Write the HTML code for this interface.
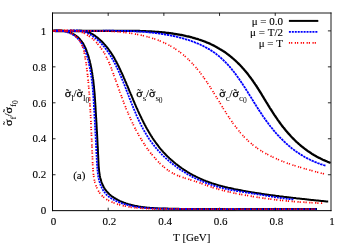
<!DOCTYPE html>
<html><head><meta charset="utf-8"><title>plot</title><style>html,body{margin:0;padding:0;background:#fff;overflow:hidden}body{width:350px;height:245px;position:relative;font-family:"Liberation Serif",serif}</style></head>
<body>
<svg width="350" height="245" viewBox="0 0 350 245" style="position:absolute;left:0;top:0">
<defs><filter id="gs" x="0" y="0" width="350" height="245" filterUnits="userSpaceOnUse" color-interpolation-filters="sRGB"><feColorMatrix type="saturate" values="0"/></filter></defs>
<rect width="350" height="245" fill="#fff"/>
<path d="M108.18 210.7 v-3 M108.18 12.9 v3 M52.5 174.74 h3 M330.9 174.74 h-3 M163.86 210.7 v-3 M163.86 12.9 v3 M52.5 138.77 h3 M330.9 138.77 h-3 M219.54 210.7 v-3 M219.54 12.9 v3 M52.5 102.81 h3 M330.9 102.81 h-3 M275.22 210.7 v-3 M275.22 12.9 v3 M52.5 66.85 h3 M330.9 66.85 h-3 M52.5 30.88 h3 M330.9 30.88 h-3" stroke="#000" stroke-width="0.85" fill="none"/>
<path d="M52.5 30.9 L53.5 30.8 L54.6 30.6 L55.6 30.5 L56.6 30.5 L57.7 30.5 L58.7 30.5 L59.8 30.5 L60.8 30.6 L61.8 30.7 L62.8 30.8 L63.8 30.9 L64.9 31.1 L65.8 31.3 L66.8 31.6 L67.8 31.8 L68.8 32.1 L69.7 32.5 L70.6 32.8 L71.5 33.2 L72.4 33.6 L73.3 34.1 L74.1 34.5 L75.0 35.0 L75.8 35.6 L76.5 36.1 L77.3 36.7 L78.0 37.3 L78.7 38.0 L79.4 38.6 L80.0 39.3 L80.6 40.1 L81.2 40.8 L81.8 41.6 L82.3 42.3 L82.9 43.1 L83.4 44.0 L83.8 44.8 L84.3 45.7 L84.7 46.5 L85.2 47.4 L85.6 48.3 L86.0 49.2 L86.3 50.2 L86.7 51.1 L87.0 52.0 L87.4 53.0 L87.7 54.0 L88.0 54.9 L88.3 55.9 L88.6 56.9 L88.9 57.9 L89.1 58.8 L89.4 59.8 L89.7 60.8 L89.9 61.8 L90.1 62.8 L90.4 63.8 L90.6 64.8 L90.8 65.7 L91.0 66.7 L91.2 67.7 L91.4 68.7 L91.6 69.7 L91.8 70.7 L91.9 71.7 L92.1 72.7 L92.3 73.7 L92.4 74.7 L92.6 75.7 L92.7 76.7 L92.9 77.7 L93.0 78.7 L93.2 79.7 L93.3 80.7 L93.4 81.7 L93.5 82.7 L93.6 83.6 L93.7 84.6 L93.8 85.6 L94.0 86.6 L94.0 87.6 L94.1 88.6 L94.2 89.6 L94.3 90.6 L94.4 91.6 L94.5 92.6 L94.6 93.6 L94.7 94.6 L94.7 95.6 L94.8 96.6 L94.9 97.6 L94.9 98.6 L95.0 99.6 L95.1 100.6 L95.1 101.6 L95.2 102.6 L95.3 103.6 L95.3 104.6 L95.4 105.6 L95.5 106.6 L95.5 107.6 L95.6 108.6 L95.6 109.6 L95.7 110.6 L95.7 111.5 L95.8 112.5 L95.9 113.5 L95.9 114.5 L96.0 115.5 L96.0 116.5 L96.1 117.5 L96.2 118.5 L96.2 119.5 L96.3 120.4 L96.3 121.4 L96.4 122.4 L96.5 123.4 L96.5 124.4 L96.6 125.4 L96.6 126.4 L96.7 127.4 L96.7 128.3 L96.8 129.3 L96.8 130.3 L96.9 131.3 L97.0 132.3 L97.0 133.3 L97.1 134.3 L97.1 135.3 L97.2 136.3 L97.2 137.3 L97.3 138.3 L97.3 139.3 L97.4 140.3 L97.4 141.3 L97.5 142.3 L97.5 143.3 L97.6 144.3 L97.6 145.3 L97.7 146.3 L97.8 147.3 L97.8 148.3 L97.9 149.3 L97.9 150.3 L97.9 151.3 L98.0 152.3 L98.0 153.3 L98.1 154.4 L98.1 155.4 L98.2 156.4 L98.2 157.4 L98.3 158.5 L98.3 159.5 L98.4 160.5 L98.4 161.5 L98.5 162.6 L98.5 163.6 L98.6 164.6 L98.6 165.7 L98.7 166.7 L98.8 167.7 L98.9 168.7 L99.0 169.7 L99.1 170.8 L99.2 171.8 L99.3 172.8 L99.5 173.8 L99.7 174.8 L99.8 175.7 L100.0 176.7 L100.2 177.7 L100.5 178.6 L100.7 179.6 L101.0 180.5 L101.3 181.5 L101.6 182.4 L102.0 183.3 L102.3 184.2 L102.7 185.1 L103.2 186.0 L103.6 186.8 L104.1 187.7 L104.6 188.5 L105.1 189.3 L105.7 190.1 L106.3 190.9 L106.9 191.6 L107.5 192.3 L108.2 193.0 L108.9 193.7 L109.6 194.4 L110.3 195.0 L111.1 195.7 L111.9 196.3 L112.7 196.8 L113.5 197.4 L114.3 197.9 L115.2 198.4 L116.0 198.9 L116.9 199.4 L117.8 199.9 L118.7 200.3 L119.5 200.8 L120.4 201.2 L121.4 201.6 L122.3 202.0 L123.2 202.3 L124.1 202.7 L125.0 203.0 L126.0 203.4 L126.9 203.7 L127.8 204.0 L128.8 204.3 L129.7 204.5 L130.7 204.8 L131.6 205.1 L132.6 205.3 L133.6 205.5 L134.5 205.7 L135.5 205.9 L136.5 206.1 L137.5 206.3 L138.4 206.5 L139.4 206.7 L140.4 206.8 L141.4 207.0 L142.4 207.1 L143.4 207.2 L144.4 207.3 L145.4 207.5 L146.4 207.6 L147.4 207.7 L148.4 207.8 L149.4 207.8 L150.4 207.9 L151.4 208.0 L152.4 208.1 L153.5 208.1 L154.5 208.2 L155.5 208.2 L156.5 208.3 L157.5 208.3 L158.5 208.4 L159.6 208.4 L160.6 208.5 L161.6 208.5 L162.6 208.5 L163.6 208.5 L164.6 208.6 L165.6 208.6 L166.7 208.6 L167.7 208.6 L168.7 208.7 L169.7 208.7 L170.7 208.7 L171.7 208.7 L172.7 208.7 L173.7 208.8 L174.7 208.8 L175.7 208.8 L176.7 208.8 L177.7 208.8 L178.7 208.8 L179.7 208.9 L180.7 208.9 L181.7 208.9 L182.7 208.9 L183.7 208.9 L184.7 208.9 L185.7 208.9 L186.7 208.9 L187.7 209.0 L188.7 209.0 L189.7 209.0 L190.7 209.0 L191.7 209.0 L192.7 209.0 L193.7 209.0 L194.7 209.0 L195.7 209.0 L196.7 209.0 L197.7 209.1 L198.7 209.1 L199.7 209.1 L200.7 209.1 L201.7 209.1 L202.6 209.1 L203.6 209.1 L204.6 209.1 L205.6 209.1 L206.6 209.1 L207.6 209.1 L208.6 209.1 L209.6 209.1 L210.6 209.1 L211.6 209.1 L212.6 209.1 L213.6 209.1 L214.6 209.1 L215.6 209.1 L216.6 209.1 L217.5 209.1 L218.5 209.1 L219.5 209.1 L220.5 209.1 L221.5 209.1 L222.5 209.1 L223.5 209.1 L224.5 209.1 L225.5 209.2 L226.5 209.2 L227.5 209.2 L228.5 209.2 L229.5 209.2 L230.5 209.2 L231.5 209.2 L232.5 209.2 L233.5 209.2 L234.5 209.2 L235.5 209.2 L236.5 209.1 L237.5 209.1 L238.5 209.1 L239.5 209.1 L240.5 209.1 L241.5 209.1 L242.5 209.1 L243.5 209.1 L244.5 209.1 L245.5 209.1 L246.5 209.1 L247.5 209.1 L248.5 209.1 L249.5 209.1 L250.5 209.1 L251.5 209.1 L252.5 209.1 L253.5 209.1 L254.5 209.1 L255.5 209.1 L256.5 209.1 L257.5 209.1 L258.6 209.1 L259.6 209.1 L260.6 209.1 L261.6 209.1 L262.6 209.1 L263.6 209.1 L264.6 209.1 L265.6 209.1 L266.6 209.1 L267.6 209.1 L268.6 209.1 L269.6 209.1 L270.6 209.1 L271.6 209.1 L272.6 209.1 L273.6 209.1 L274.6 209.1 L275.6 209.1 L276.6 209.1 L277.6 209.1 L278.6 209.1 L279.6 209.1 L280.6 209.1 L281.6 209.1 L282.6 209.1 L283.6 209.1 L284.6 209.1 L285.6 209.1 L286.6 209.1 L287.6 209.1 L288.6 209.1 L289.6 209.1 L290.6 209.1 L291.6 209.1 L292.6 209.1 L293.6 209.1 L294.6 209.1 L295.6 209.1 L296.6 209.1 L297.6 209.1 L298.6 209.1 L299.6 209.1 L300.6 209.1 L301.6 209.1 L302.6 209.1 L303.6 209.1 L304.6 209.1 L305.6 209.1 L306.6 209.1 L307.6 209.1 L308.6 209.1 L309.6 209.1 L310.6 209.1 L311.6 209.1 L312.6 209.1 L313.6 209.1 L314.6 209.1 L315.6 209.1 L316.6 209.1 L317.0 209.1" stroke="#000" stroke-width="2.0" fill="none" stroke-linejoin="round"/>
<path d="M52.5 30.9 L53.5 30.9 L54.5 31.0 L55.5 31.0 L56.5 31.0 L57.5 31.0 L58.5 31.0 L59.5 31.0 L60.5 31.0 L61.5 31.0 L62.5 31.0 L63.6 31.0 L64.6 31.0 L65.6 30.9 L66.6 30.9 L67.6 30.9 L68.6 30.9 L69.6 30.8 L70.6 30.8 L71.6 30.8 L72.6 30.8 L73.6 30.8 L74.6 30.7 L75.6 30.7 L76.6 30.7 L77.6 30.7 L78.6 30.7 L79.5 30.7 L80.5 30.8 L81.5 30.8 L82.5 30.9 L83.5 31.0 L84.4 31.2 L85.4 31.3 L86.4 31.6 L87.3 31.8 L88.2 32.1 L89.2 32.5 L90.1 32.9 L91.0 33.3 L91.9 33.8 L92.8 34.3 L93.6 34.9 L94.5 35.4 L95.3 36.0 L96.2 36.7 L97.0 37.3 L97.8 37.9 L98.6 38.6 L99.3 39.3 L100.1 39.9 L100.8 40.6 L101.6 41.3 L102.3 42.0 L103.0 42.7 L103.6 43.4 L104.3 44.2 L105.0 44.9 L105.6 45.7 L106.3 46.4 L106.9 47.2 L107.5 47.9 L108.1 48.7 L108.7 49.5 L109.3 50.3 L109.8 51.1 L110.4 51.9 L110.9 52.7 L111.5 53.5 L112.0 54.4 L112.5 55.2 L113.1 56.0 L113.6 56.9 L114.1 57.7 L114.6 58.6 L115.0 59.4 L115.5 60.3 L116.0 61.2 L116.5 62.0 L116.9 62.9 L117.4 63.8 L117.8 64.7 L118.3 65.6 L118.7 66.5 L119.1 67.4 L119.6 68.3 L120.0 69.2 L120.4 70.1 L120.8 71.0 L121.2 71.9 L121.7 72.8 L122.1 73.7 L122.5 74.6 L122.9 75.5 L123.3 76.4 L123.7 77.4 L124.1 78.3 L124.5 79.2 L124.9 80.1 L125.3 81.1 L125.7 82.0 L126.1 82.9 L126.5 83.8 L126.9 84.8 L127.3 85.7 L127.7 86.6 L128.1 87.6 L128.4 88.5 L128.8 89.4 L129.2 90.3 L129.6 91.3 L130.0 92.2 L130.4 93.1 L130.8 94.1 L131.2 95.0 L131.6 95.9 L132.0 96.9 L132.4 97.8 L132.7 98.7 L133.1 99.7 L133.5 100.6 L133.9 101.5 L134.3 102.4 L134.7 103.4 L135.1 104.3 L135.5 105.2 L135.9 106.2 L136.3 107.1 L136.7 108.0 L137.2 108.9 L137.6 109.8 L138.0 110.8 L138.4 111.7 L138.8 112.6 L139.2 113.5 L139.7 114.4 L140.1 115.3 L140.5 116.2 L140.9 117.1 L141.4 118.0 L141.8 118.9 L142.3 119.8 L142.7 120.7 L143.2 121.6 L143.6 122.5 L144.1 123.4 L144.5 124.3 L145.0 125.2 L145.5 126.0 L145.9 126.9 L146.4 127.8 L146.9 128.7 L147.4 129.5 L147.9 130.4 L148.4 131.2 L148.9 132.1 L149.4 132.9 L149.9 133.8 L150.4 134.6 L150.9 135.5 L151.5 136.3 L152.0 137.1 L152.5 138.0 L153.1 138.8 L153.6 139.6 L154.2 140.4 L154.7 141.2 L155.3 142.0 L155.9 142.8 L156.5 143.6 L157.1 144.4 L157.7 145.2 L158.3 146.0 L158.9 146.8 L159.5 147.6 L160.1 148.3 L160.7 149.1 L161.4 149.8 L162.0 150.6 L162.7 151.3 L163.3 152.1 L164.0 152.8 L164.7 153.5 L165.4 154.2 L166.1 155.0 L166.8 155.7 L167.5 156.4 L168.2 157.1 L168.9 157.7 L169.6 158.4 L170.4 159.1 L171.1 159.8 L171.9 160.4 L172.6 161.1 L173.4 161.8 L174.2 162.4 L174.9 163.0 L175.7 163.7 L176.5 164.3 L177.3 164.9 L178.1 165.5 L178.9 166.1 L179.7 166.7 L180.5 167.3 L181.3 167.9 L182.2 168.5 L183.0 169.0 L183.8 169.6 L184.7 170.2 L185.5 170.7 L186.4 171.2 L187.2 171.8 L188.1 172.3 L189.0 172.8 L189.8 173.3 L190.7 173.8 L191.6 174.3 L192.5 174.8 L193.4 175.3 L194.2 175.7 L195.1 176.2 L196.0 176.7 L196.9 177.1 L197.8 177.5 L198.7 178.0 L199.7 178.4 L200.6 178.8 L201.5 179.2 L202.4 179.6 L203.3 180.0 L204.3 180.4 L205.2 180.7 L206.1 181.1 L207.0 181.4 L208.0 181.8 L208.9 182.1 L209.9 182.5 L210.8 182.8 L211.7 183.1 L212.7 183.4 L213.6 183.7 L214.6 184.0 L215.5 184.3 L216.5 184.6 L217.5 184.9 L218.4 185.2 L219.4 185.5 L220.3 185.7 L221.3 186.0 L222.3 186.2 L223.2 186.5 L224.2 186.7 L225.2 187.0 L226.1 187.2 L227.1 187.4 L228.1 187.7 L229.1 187.9 L230.0 188.1 L231.0 188.3 L232.0 188.5 L233.0 188.7 L233.9 189.0 L234.9 189.2 L235.9 189.4 L236.9 189.5 L237.9 189.7 L238.9 189.9 L239.8 190.1 L240.8 190.3 L241.8 190.5 L242.8 190.7 L243.8 190.9 L244.8 191.0 L245.7 191.2 L246.7 191.4 L247.7 191.6 L248.7 191.7 L249.7 191.9 L250.7 192.1 L251.7 192.2 L252.6 192.4 L253.6 192.5 L254.6 192.7 L255.6 192.9 L256.6 193.0 L257.6 193.2 L258.6 193.3 L259.6 193.5 L260.5 193.6 L261.5 193.8 L262.5 193.9 L263.5 194.1 L264.5 194.2 L265.5 194.4 L266.5 194.5 L267.5 194.7 L268.4 194.8 L269.4 194.9 L270.4 195.1 L271.4 195.2 L272.4 195.3 L273.4 195.5 L274.4 195.6 L275.4 195.7 L276.4 195.9 L277.4 196.0 L278.4 196.1 L279.3 196.3 L280.3 196.4 L281.3 196.5 L282.3 196.6 L283.3 196.7 L284.3 196.9 L285.3 197.0 L286.3 197.1 L287.3 197.2 L288.3 197.3 L289.3 197.5 L290.3 197.6 L291.2 197.7 L292.2 197.8 L293.2 197.9 L294.2 198.0 L295.2 198.1 L296.2 198.3 L297.2 198.4 L298.2 198.5 L299.2 198.6 L300.2 198.7 L301.2 198.8 L302.2 198.9 L303.2 199.0 L304.2 199.1 L305.2 199.2 L306.2 199.3 L307.1 199.4 L308.1 199.5 L309.1 199.7 L310.1 199.8 L311.1 199.9 L312.1 200.0 L313.1 200.1 L314.1 200.2 L315.1 200.3 L316.1 200.4 L317.1 200.5 L318.1 200.6 L319.1 200.7 L320.1 200.8 L321.1 200.9 L322.1 201.0 L323.1 201.1 L324.1 201.2 L325.1 201.3 L326.1 201.4 L327.1 201.5 L328.0 201.6 L328.2 201.6" stroke="#000" stroke-width="2.0" fill="none" stroke-linejoin="round"/>
<path d="M52.5 30.9 L53.5 30.9 L54.5 30.9 L55.5 31.0 L56.5 31.0 L57.5 31.0 L58.5 31.0 L59.5 31.0 L60.5 31.0 L61.5 31.0 L62.5 31.0 L63.5 31.0 L64.5 31.1 L65.6 31.1 L66.6 31.1 L67.6 31.1 L68.6 31.1 L69.6 31.1 L70.6 31.1 L71.6 31.1 L72.6 31.1 L73.6 31.1 L74.6 31.1 L75.6 31.1 L76.6 31.1 L77.6 31.1 L78.6 31.0 L79.6 31.0 L80.6 31.0 L81.6 31.0 L82.6 31.0 L83.5 31.0 L84.5 31.0 L85.5 31.0 L86.5 31.0 L87.5 31.0 L88.5 31.0 L89.5 31.0 L90.5 30.9 L91.5 30.9 L92.5 30.9 L93.5 30.9 L94.5 30.9 L95.5 30.9 L96.5 30.9 L97.5 30.9 L98.5 30.9 L99.5 30.9 L100.5 30.9 L101.5 30.8 L102.5 30.8 L103.5 30.8 L104.5 30.8 L105.5 30.8 L106.5 30.8 L107.5 30.8 L108.5 30.8 L109.5 30.8 L110.5 30.8 L111.5 30.8 L112.5 30.8 L113.5 30.8 L114.5 30.8 L115.5 30.8 L116.5 30.8 L117.4 30.8 L118.4 30.8 L119.4 30.8 L120.4 30.8 L121.4 30.8 L122.4 30.8 L123.4 30.8 L124.4 30.8 L125.4 30.8 L126.4 30.8 L127.4 30.8 L128.4 30.8 L129.4 30.8 L130.4 30.8 L131.4 30.9 L132.4 30.9 L133.4 30.9 L134.4 30.9 L135.4 30.9 L136.4 31.0 L137.4 31.0 L138.4 31.0 L139.4 31.0 L140.4 31.1 L141.4 31.1 L142.4 31.1 L143.4 31.2 L144.4 31.2 L145.4 31.2 L146.4 31.3 L147.4 31.3 L148.4 31.4 L149.4 31.4 L150.4 31.5 L151.4 31.5 L152.4 31.6 L153.4 31.6 L154.4 31.7 L155.4 31.8 L156.4 31.8 L157.4 31.9 L158.4 32.0 L159.4 32.1 L160.4 32.2 L161.4 32.2 L162.4 32.3 L163.4 32.4 L164.4 32.5 L165.4 32.6 L166.4 32.8 L167.4 32.9 L168.4 33.0 L169.4 33.1 L170.4 33.2 L171.4 33.4 L172.4 33.5 L173.4 33.7 L174.4 33.8 L175.4 34.0 L176.4 34.1 L177.4 34.3 L178.4 34.5 L179.4 34.6 L180.4 34.8 L181.4 35.0 L182.3 35.2 L183.3 35.4 L184.3 35.6 L185.3 35.8 L186.3 36.1 L187.3 36.3 L188.3 36.5 L189.2 36.7 L190.2 37.0 L191.2 37.2 L192.2 37.5 L193.1 37.8 L194.1 38.0 L195.1 38.3 L196.0 38.6 L197.0 38.9 L198.0 39.2 L198.9 39.5 L199.9 39.8 L200.8 40.2 L201.8 40.5 L202.7 40.8 L203.6 41.2 L204.6 41.5 L205.5 41.9 L206.4 42.3 L207.3 42.6 L208.3 43.0 L209.2 43.4 L210.1 43.8 L211.0 44.3 L211.9 44.7 L212.8 45.1 L213.7 45.5 L214.5 46.0 L215.4 46.4 L216.3 46.9 L217.2 47.4 L218.0 47.9 L218.9 48.4 L219.7 48.9 L220.6 49.4 L221.4 49.9 L222.2 50.4 L223.1 51.0 L223.9 51.5 L224.7 52.1 L225.5 52.6 L226.3 53.2 L227.1 53.8 L227.9 54.4 L228.7 55.0 L229.5 55.6 L230.2 56.2 L231.0 56.8 L231.7 57.4 L232.5 58.1 L233.3 58.7 L234.0 59.4 L234.7 60.0 L235.5 60.7 L236.2 61.4 L236.9 62.0 L237.6 62.7 L238.3 63.4 L239.0 64.1 L239.7 64.8 L240.4 65.5 L241.1 66.3 L241.8 67.0 L242.4 67.7 L243.1 68.5 L243.8 69.2 L244.4 70.0 L245.1 70.7 L245.7 71.5 L246.3 72.2 L247.0 73.0 L247.6 73.8 L248.2 74.6 L248.8 75.4 L249.4 76.2 L250.0 76.9 L250.6 77.8 L251.2 78.6 L251.8 79.4 L252.4 80.2 L253.0 81.0 L253.5 81.8 L254.1 82.7 L254.7 83.5 L255.2 84.3 L255.8 85.2 L256.3 86.0 L256.9 86.8 L257.4 87.7 L258.0 88.5 L258.5 89.4 L259.1 90.2 L259.6 91.1 L260.1 92.0 L260.7 92.8 L261.2 93.7 L261.7 94.5 L262.2 95.4 L262.8 96.3 L263.3 97.1 L263.8 98.0 L264.3 98.9 L264.9 99.7 L265.4 100.6 L265.9 101.4 L266.4 102.3 L267.0 103.2 L267.5 104.0 L268.0 104.9 L268.6 105.8 L269.1 106.6 L269.6 107.5 L270.1 108.3 L270.7 109.2 L271.2 110.0 L271.8 110.9 L272.3 111.7 L272.9 112.6 L273.4 113.4 L274.0 114.3 L274.5 115.1 L275.1 115.9 L275.6 116.8 L276.2 117.6 L276.8 118.4 L277.3 119.2 L277.9 120.1 L278.5 120.9 L279.1 121.7 L279.6 122.5 L280.2 123.3 L280.8 124.1 L281.4 124.9 L282.0 125.7 L282.6 126.5 L283.2 127.3 L283.9 128.0 L284.5 128.8 L285.1 129.6 L285.7 130.4 L286.4 131.1 L287.0 131.9 L287.7 132.6 L288.3 133.4 L289.0 134.1 L289.6 134.8 L290.3 135.6 L290.9 136.3 L291.6 137.0 L292.3 137.7 L293.0 138.4 L293.7 139.1 L294.4 139.8 L295.1 140.5 L295.8 141.2 L296.5 141.9 L297.2 142.5 L298.0 143.2 L298.7 143.8 L299.5 144.5 L300.2 145.1 L301.0 145.8 L301.7 146.4 L302.5 147.0 L303.3 147.6 L304.0 148.2 L304.8 148.8 L305.6 149.4 L306.4 150.0 L307.2 150.6 L308.0 151.2 L308.9 151.7 L309.7 152.3 L310.5 152.8 L311.4 153.4 L312.2 153.9 L313.1 154.4 L313.9 154.9 L314.8 155.4 L315.7 155.9 L316.5 156.4 L317.4 156.9 L318.3 157.4 L319.2 157.9 L320.1 158.3 L321.0 158.8 L321.9 159.2 L322.8 159.7 L323.8 160.1 L324.7 160.5 L325.6 160.9 L326.6 161.3 L327.5 161.7 L328.5 162.1 L329.5 162.5 L330.4 162.8 L330.6 162.9" stroke="#000" stroke-width="2.3" fill="none" stroke-linejoin="round"/>
<path d="M52.5 30.9 L53.5 30.8 L54.5 30.6 L55.6 30.6 L56.6 30.5 L57.6 30.5 L58.7 30.5 L59.7 30.6 L60.7 30.7 L61.7 30.8 L62.7 31.0 L63.7 31.2 L64.7 31.4 L65.7 31.7 L66.7 31.9 L67.6 32.3 L68.5 32.6 L69.5 33.0 L70.4 33.4 L71.3 33.8 L72.1 34.3 L73.0 34.8 L73.8 35.3 L74.6 35.8 L75.4 36.4 L76.1 37.0 L76.9 37.6 L77.6 38.3 L78.2 39.0 L78.9 39.7 L79.5 40.4 L80.1 41.1 L80.7 41.9 L81.2 42.7 L81.7 43.5 L82.2 44.3 L82.7 45.2 L83.2 46.1 L83.6 46.9 L84.0 47.8 L84.4 48.7 L84.8 49.6 L85.2 50.6 L85.5 51.5 L85.9 52.5 L86.2 53.4 L86.5 54.4 L86.8 55.4 L87.1 56.3 L87.4 57.3 L87.7 58.3 L87.9 59.3 L88.2 60.3 L88.4 61.3 L88.7 62.2 L88.9 63.2 L89.1 64.2 L89.3 65.2 L89.5 66.2 L89.7 67.2 L89.9 68.2 L90.1 69.2 L90.3 70.2 L90.5 71.2 L90.6 72.2 L90.8 73.2 L91.0 74.2 L91.1 75.2 L91.3 76.2 L91.4 77.1 L91.5 78.1 L91.7 79.1 L91.8 80.1 L91.9 81.1 L92.0 82.1 L92.1 83.1 L92.3 84.1 L92.4 85.1 L92.5 86.1 L92.6 87.1 L92.7 88.1 L92.8 89.1 L92.8 90.1 L92.9 91.1 L93.0 92.1 L93.1 93.1 L93.2 94.1 L93.2 95.1 L93.3 96.1 L93.4 97.1 L93.5 98.1 L93.5 99.1 L93.6 100.1 L93.6 101.1 L93.7 102.1 L93.8 103.1 L93.8 104.0 L93.9 105.0 L93.9 106.0 L94.0 107.0 L94.1 108.0 L94.1 109.0 L94.2 110.0 L94.2 111.0 L94.3 112.0 L94.3 113.0 L94.4 114.0 L94.4 115.0 L94.5 115.9 L94.5 116.9 L94.6 117.9 L94.7 118.9 L94.7 119.9 L94.8 120.9 L94.8 121.9 L94.9 122.9 L94.9 123.9 L95.0 124.8 L95.0 125.8 L95.1 126.8 L95.1 127.8 L95.2 128.8 L95.2 129.8 L95.3 130.8 L95.3 131.8 L95.4 132.8 L95.5 133.8 L95.5 134.7 L95.6 135.7 L95.6 136.7 L95.7 137.7 L95.7 138.7 L95.8 139.7 L95.8 140.7 L95.9 141.7 L95.9 142.7 L96.0 143.7 L96.0 144.7 L96.1 145.7 L96.1 146.7 L96.2 147.7 L96.2 148.7 L96.3 149.8 L96.3 150.8 L96.4 151.8 L96.4 152.8 L96.5 153.8 L96.5 154.8 L96.6 155.8 L96.6 156.9 L96.7 157.9 L96.7 158.9 L96.8 159.9 L96.8 160.9 L96.9 162.0 L96.9 163.0 L97.0 164.0 L97.1 165.1 L97.1 166.1 L97.2 167.1 L97.3 168.1 L97.4 169.2 L97.5 170.2 L97.6 171.2 L97.7 172.2 L97.8 173.2 L97.9 174.2 L98.1 175.2 L98.2 176.2 L98.4 177.2 L98.6 178.2 L98.8 179.2 L99.1 180.1 L99.3 181.1 L99.6 182.0 L99.9 183.0 L100.2 183.9 L100.5 184.8 L100.9 185.7 L101.2 186.6 L101.7 187.5 L102.1 188.4 L102.5 189.2 L103.0 190.1 L103.5 190.9 L104.1 191.7 L104.7 192.5 L105.3 193.2 L105.9 194.0 L106.5 194.7 L107.2 195.3 L107.9 196.0 L108.7 196.6 L109.4 197.2 L110.2 197.7 L111.1 198.3 L111.9 198.8 L112.7 199.3 L113.6 199.8 L114.5 200.2 L115.4 200.7 L116.3 201.1 L117.2 201.5 L118.1 201.9 L119.0 202.2 L119.9 202.6 L120.9 202.9 L121.8 203.3 L122.7 203.6 L123.7 203.9 L124.6 204.2 L125.6 204.5 L126.5 204.7 L127.5 205.0 L128.4 205.2 L129.4 205.5 L130.4 205.7 L131.3 205.9 L132.3 206.1 L133.3 206.3 L134.2 206.5 L135.2 206.7 L136.2 206.8 L137.2 207.0 L138.2 207.1 L139.2 207.3 L140.2 207.4 L141.2 207.5 L142.2 207.6 L143.2 207.7 L144.2 207.8 L145.2 207.9 L146.2 208.0 L147.2 208.1 L148.2 208.1 L149.2 208.2 L150.2 208.3 L151.2 208.3 L152.2 208.4 L153.2 208.4 L154.2 208.5 L155.2 208.5 L156.3 208.6 L157.3 208.6 L158.3 208.6 L159.3 208.6 L160.3 208.7 L161.3 208.7 L162.3 208.7 L163.4 208.7 L164.4 208.7 L165.4 208.7 L166.4 208.8 L167.4 208.8 L168.4 208.8 L169.4 208.8 L170.4 208.8 L171.4 208.8 L172.5 208.8 L173.5 208.8 L174.5 208.9 L175.5 208.9 L176.5 208.9 L177.5 208.9 L178.5 208.9 L179.5 208.9 L180.5 208.9 L181.5 208.9 L182.5 208.9 L183.5 208.9 L184.5 209.0 L185.5 209.0 L186.5 209.0 L187.5 209.0 L188.5 209.0 L189.5 209.0 L190.5 209.0 L191.5 209.0 L192.5 209.0 L193.5 209.0 L194.4 209.0 L195.4 209.0 L196.4 209.0 L197.4 209.1 L198.4 209.1 L199.4 209.1 L200.4 209.1 L201.4 209.1 L202.4 209.1 L203.4 209.1 L204.4 209.1 L205.4 209.1 L206.4 209.1 L207.4 209.1 L208.4 209.1 L209.3 209.1 L210.3 209.1 L211.3 209.1 L212.3 209.1 L213.3 209.1 L214.3 209.1 L215.3 209.1 L216.3 209.1 L217.3 209.1 L218.3 209.1 L219.3 209.1 L220.3 209.1 L221.3 209.1 L222.3 209.2 L223.3 209.2 L224.3 209.2 L225.3 209.2 L226.3 209.2 L227.3 209.2 L228.3 209.2 L229.3 209.2 L230.3 209.2 L231.3 209.2 L232.3 209.2 L233.3 209.2 L234.3 209.2 L235.3 209.2 L236.3 209.2 L237.3 209.2 L238.3 209.2 L239.3 209.2 L240.3 209.2 L241.3 209.2 L242.3 209.2 L243.3 209.1 L244.3 209.1 L245.3 209.1 L246.3 209.1 L247.3 209.1 L248.3 209.1 L249.3 209.1 L250.3 209.1 L251.3 209.1 L252.3 209.1 L253.3 209.1 L254.3 209.1 L255.3 209.1 L256.3 209.1 L257.3 209.1 L258.3 209.1 L259.3 209.1 L260.3 209.1 L261.3 209.1 L262.3 209.1 L263.3 209.1 L264.3 209.1 L265.3 209.1 L266.3 209.1 L267.3 209.1 L268.3 209.1 L269.3 209.1 L270.3 209.1 L271.3 209.1 L272.3 209.1 L273.3 209.1 L274.3 209.1 L275.4 209.1 L276.4 209.1 L277.4 209.1 L278.4 209.1 L279.4 209.1 L280.4 209.1 L281.4 209.1 L282.4 209.1 L283.4 209.1 L284.4 209.1 L285.4 209.1 L286.4 209.1 L287.4 209.1 L288.4 209.1 L289.4 209.1 L290.4 209.1 L291.4 209.1 L292.4 209.1 L293.4 209.1 L294.4 209.1 L295.4 209.1 L296.4 209.1 L297.4 209.1 L298.4 209.1 L299.4 209.1 L300.4 209.1 L301.4 209.1 L302.4 209.1 L303.4 209.1 L304.4 209.1 L305.4 209.1 L306.4 209.1 L307.4 209.1 L308.4 209.1 L309.4 209.1 L310.4 209.1 L311.4 209.1 L312.4 209.1 L313.4 209.1 L314.4 209.1 L315.3 209.1 L316.3 209.1 L317.0 209.1" stroke="#0000ff" stroke-width="1.8" stroke-dasharray="2 0.94" fill="none" stroke-linejoin="round"/>
<path d="M52.5 30.9 L53.5 31.0 L54.5 31.1 L55.5 31.2 L56.5 31.2 L57.5 31.2 L58.5 31.2 L59.5 31.2 L60.5 31.2 L61.5 31.1 L62.6 31.1 L63.6 31.0 L64.6 30.9 L65.6 30.9 L66.6 30.8 L67.6 30.7 L68.6 30.6 L69.6 30.6 L70.6 30.5 L71.6 30.5 L72.6 30.4 L73.6 30.4 L74.6 30.4 L75.6 30.4 L76.6 30.4 L77.6 30.5 L78.6 30.6 L79.6 30.7 L80.6 30.9 L81.5 31.0 L82.5 31.3 L83.4 31.5 L84.4 31.8 L85.3 32.1 L86.2 32.5 L87.1 32.9 L88.0 33.3 L88.9 33.8 L89.8 34.3 L90.7 34.8 L91.5 35.4 L92.3 35.9 L93.2 36.5 L94.0 37.1 L94.8 37.7 L95.6 38.3 L96.3 38.9 L97.1 39.5 L97.8 40.2 L98.5 40.9 L99.3 41.5 L100.0 42.2 L100.7 42.9 L101.3 43.6 L102.0 44.3 L102.7 45.1 L103.3 45.8 L103.9 46.5 L104.6 47.3 L105.2 48.1 L105.8 48.8 L106.4 49.6 L106.9 50.4 L107.5 51.2 L108.1 52.0 L108.6 52.8 L109.2 53.7 L109.7 54.5 L110.2 55.3 L110.8 56.2 L111.3 57.0 L111.8 57.9 L112.3 58.7 L112.8 59.6 L113.3 60.5 L113.7 61.3 L114.2 62.2 L114.7 63.1 L115.1 64.0 L115.6 64.9 L116.0 65.8 L116.5 66.7 L116.9 67.6 L117.3 68.5 L117.8 69.4 L118.2 70.3 L118.6 71.2 L119.0 72.1 L119.4 73.0 L119.8 74.0 L120.2 74.9 L120.6 75.8 L121.0 76.7 L121.4 77.7 L121.8 78.6 L122.2 79.5 L122.6 80.5 L123.0 81.4 L123.4 82.3 L123.7 83.3 L124.1 84.2 L124.5 85.2 L124.9 86.1 L125.2 87.0 L125.6 88.0 L126.0 88.9 L126.3 89.9 L126.7 90.8 L127.1 91.8 L127.4 92.7 L127.8 93.6 L128.2 94.6 L128.5 95.5 L128.9 96.5 L129.3 97.4 L129.6 98.4 L130.0 99.3 L130.4 100.2 L130.7 101.2 L131.1 102.1 L131.5 103.1 L131.8 104.0 L132.2 104.9 L132.6 105.9 L133.0 106.8 L133.3 107.8 L133.7 108.7 L134.1 109.6 L134.5 110.5 L134.9 111.5 L135.3 112.4 L135.7 113.3 L136.0 114.2 L136.4 115.2 L136.9 116.1 L137.3 117.0 L137.7 117.9 L138.1 118.8 L138.5 119.7 L138.9 120.6 L139.3 121.5 L139.8 122.4 L140.2 123.3 L140.7 124.2 L141.1 125.1 L141.5 126.0 L142.0 126.9 L142.5 127.7 L142.9 128.6 L143.4 129.5 L143.9 130.4 L144.4 131.2 L144.9 132.1 L145.4 132.9 L145.9 133.8 L146.4 134.6 L146.9 135.5 L147.4 136.3 L147.9 137.1 L148.5 138.0 L149.0 138.8 L149.6 139.6 L150.1 140.4 L150.7 141.2 L151.3 142.0 L151.9 142.8 L152.5 143.6 L153.1 144.4 L153.7 145.2 L154.3 145.9 L154.9 146.7 L155.5 147.5 L156.2 148.2 L156.8 149.0 L157.5 149.7 L158.1 150.5 L158.8 151.2 L159.5 151.9 L160.2 152.6 L160.8 153.4 L161.5 154.1 L162.2 154.8 L162.9 155.5 L163.6 156.2 L164.4 156.9 L165.1 157.6 L165.8 158.2 L166.6 158.9 L167.3 159.6 L168.1 160.2 L168.8 160.9 L169.6 161.5 L170.3 162.2 L171.1 162.8 L171.9 163.4 L172.7 164.0 L173.5 164.7 L174.3 165.3 L175.1 165.9 L175.9 166.5 L176.7 167.1 L177.5 167.7 L178.3 168.2 L179.1 168.8 L180.0 169.4 L180.8 169.9 L181.6 170.5 L182.5 171.0 L183.3 171.6 L184.2 172.1 L185.0 172.6 L185.9 173.1 L186.8 173.7 L187.6 174.2 L188.5 174.7 L189.4 175.2 L190.3 175.6 L191.1 176.1 L192.0 176.6 L192.9 177.1 L193.8 177.5 L194.7 178.0 L195.6 178.4 L196.5 178.9 L197.4 179.3 L198.4 179.7 L199.3 180.1 L200.2 180.5 L201.1 180.9 L202.0 181.3 L203.0 181.7 L203.9 182.1 L204.8 182.5 L205.8 182.8 L206.7 183.2 L207.6 183.6 L208.6 183.9 L209.5 184.2 L210.5 184.6 L211.4 184.9 L212.4 185.2 L213.3 185.5 L214.3 185.8 L215.2 186.1 L216.2 186.4 L217.2 186.7 L218.1 186.9 L219.1 187.2 L220.0 187.5 L221.0 187.7 L222.0 187.9 L223.0 188.2 L223.9 188.4 L224.9 188.6 L225.9 188.9 L226.8 189.1 L227.8 189.3 L228.8 189.5 L229.8 189.7 L230.7 189.9 L231.7 190.1 L232.7 190.3 L233.7 190.4 L234.7 190.6 L235.6 190.8 L236.6 191.0 L237.6 191.1 L238.6 191.3 L239.6 191.5 L240.6 191.6 L241.6 191.8 L242.5 191.9 L243.5 192.1 L244.5 192.3 L245.5 192.4 L246.5 192.6 L247.5 192.7 L248.5 192.9 L249.4 193.0 L250.4 193.2 L251.4 193.3 L252.4 193.5 L253.4 193.6 L254.4 193.8 L255.4 193.9 L256.4 194.1 L257.3 194.3 L258.3 194.4 L259.3 194.6 L260.3 194.7 L261.3 194.9 L262.3 195.1 L263.3 195.2 L264.3 195.4 L265.2 195.6 L266.2 195.7 L267.2 195.9 L268.2 196.0 L269.2 196.2 L270.2 196.4 L271.2 196.5 L272.1 196.7 L273.1 196.8 L274.1 197.0 L275.1 197.1 L276.1 197.3 L277.1 197.4 L278.1 197.6 L279.1 197.7 L280.1 197.9 L281.0 198.0 L282.0 198.2 L283.0 198.3 L284.0 198.4 L285.0 198.5 L286.0 198.7 L287.0 198.8 L288.0 198.9 L289.0 199.0 L290.0 199.1 L291.0 199.2 L292.0 199.3 L293.0 199.4 L293.7 199.5" stroke="#0000ff" stroke-width="1.8" stroke-dasharray="2 0.94" fill="none" stroke-linejoin="round"/>
<path d="M52.5 30.9 L53.5 30.9 L54.5 30.9 L55.5 31.0 L56.5 31.0 L57.5 31.0 L58.5 31.0 L59.6 31.0 L60.6 31.0 L61.6 31.0 L62.6 31.0 L63.6 31.1 L64.6 31.1 L65.6 31.1 L66.6 31.1 L67.6 31.1 L68.6 31.1 L69.6 31.1 L70.6 31.1 L71.6 31.1 L72.6 31.0 L73.6 31.0 L74.6 31.0 L75.6 31.0 L76.6 31.0 L77.6 31.0 L78.6 31.0 L79.6 31.0 L80.6 31.0 L81.6 31.0 L82.6 31.0 L83.6 31.0 L84.6 30.9 L85.6 30.9 L86.6 30.9 L87.6 30.9 L88.6 30.9 L89.6 30.9 L90.6 30.9 L91.6 30.9 L92.6 30.8 L93.6 30.8 L94.6 30.8 L95.6 30.8 L96.6 30.8 L97.5 30.8 L98.5 30.8 L99.5 30.8 L100.5 30.8 L101.5 30.8 L102.5 30.8 L103.5 30.7 L104.5 30.7 L105.5 30.7 L106.5 30.7 L107.5 30.7 L108.5 30.7 L109.5 30.7 L110.5 30.7 L111.5 30.7 L112.5 30.7 L113.5 30.7 L114.5 30.8 L115.5 30.8 L116.5 30.8 L117.4 30.8 L118.4 30.8 L119.4 30.8 L120.4 30.8 L121.4 30.8 L122.4 30.9 L123.4 30.9 L124.4 30.9 L125.4 30.9 L126.4 31.0 L127.4 31.0 L128.4 31.0 L129.4 31.1 L130.4 31.1 L131.4 31.1 L132.4 31.2 L133.4 31.2 L134.4 31.3 L135.4 31.3 L136.4 31.4 L137.4 31.4 L138.4 31.5 L139.4 31.6 L140.3 31.6 L141.3 31.7 L142.3 31.8 L143.3 31.8 L144.3 31.9 L145.3 32.0 L146.3 32.1 L147.3 32.2 L148.3 32.3 L149.3 32.4 L150.3 32.5 L151.3 32.6 L152.3 32.7 L153.3 32.8 L154.3 32.9 L155.3 33.0 L156.3 33.1 L157.3 33.3 L158.3 33.4 L159.3 33.5 L160.3 33.7 L161.3 33.8 L162.3 34.0 L163.3 34.1 L164.3 34.3 L165.2 34.5 L166.2 34.6 L167.2 34.8 L168.2 35.0 L169.2 35.2 L170.2 35.4 L171.2 35.6 L172.2 35.8 L173.2 36.0 L174.1 36.2 L175.1 36.4 L176.1 36.6 L177.1 36.9 L178.1 37.1 L179.1 37.4 L180.0 37.6 L181.0 37.9 L182.0 38.1 L183.0 38.4 L184.0 38.7 L184.9 39.0 L185.9 39.3 L186.9 39.6 L187.8 39.9 L188.8 40.2 L189.8 40.5 L190.7 40.8 L191.7 41.2 L192.6 41.5 L193.6 41.9 L194.5 42.2 L195.4 42.6 L196.4 43.0 L197.3 43.4 L198.2 43.7 L199.1 44.1 L200.1 44.5 L201.0 45.0 L201.9 45.4 L202.8 45.8 L203.7 46.3 L204.5 46.7 L205.4 47.2 L206.3 47.6 L207.2 48.1 L208.0 48.6 L208.9 49.1 L209.7 49.6 L210.5 50.1 L211.4 50.6 L212.2 51.2 L213.0 51.7 L213.8 52.3 L214.6 52.8 L215.4 53.4 L216.2 54.0 L216.9 54.6 L217.7 55.2 L218.5 55.8 L219.2 56.4 L220.0 57.0 L220.7 57.7 L221.4 58.3 L222.1 59.0 L222.8 59.6 L223.5 60.3 L224.2 61.0 L224.9 61.7 L225.6 62.4 L226.3 63.1 L227.0 63.8 L227.6 64.5 L228.3 65.2 L228.9 66.0 L229.6 66.7 L230.2 67.4 L230.9 68.2 L231.5 68.9 L232.1 69.7 L232.7 70.5 L233.3 71.2 L234.0 72.0 L234.6 72.8 L235.2 73.6 L235.8 74.4 L236.4 75.2 L236.9 76.0 L237.5 76.8 L238.1 77.6 L238.7 78.4 L239.3 79.3 L239.8 80.1 L240.4 80.9 L241.0 81.7 L241.5 82.6 L242.1 83.4 L242.7 84.3 L243.2 85.1 L243.8 85.9 L244.3 86.8 L244.9 87.6 L245.4 88.5 L246.0 89.4 L246.5 90.2 L247.0 91.1 L247.6 91.9 L248.1 92.8 L248.7 93.7 L249.2 94.5 L249.7 95.4 L250.3 96.3 L250.8 97.1 L251.4 98.0 L251.9 98.8 L252.4 99.7 L253.0 100.6 L253.5 101.4 L254.0 102.3 L254.6 103.2 L255.1 104.0 L255.7 104.9 L256.2 105.8 L256.7 106.6 L257.3 107.5 L257.8 108.3 L258.4 109.2 L258.9 110.1 L259.5 110.9 L260.0 111.8 L260.6 112.6 L261.2 113.4 L261.7 114.3 L262.3 115.1 L262.8 116.0 L263.4 116.8 L264.0 117.6 L264.6 118.4 L265.1 119.3 L265.7 120.1 L266.3 120.9 L266.9 121.7 L267.5 122.5 L268.1 123.3 L268.7 124.1 L269.3 124.9 L269.9 125.7 L270.5 126.5 L271.1 127.2 L271.8 128.0 L272.4 128.8 L273.0 129.6 L273.6 130.3 L274.3 131.1 L274.9 131.8 L275.6 132.6 L276.2 133.3 L276.9 134.0 L277.5 134.8 L278.2 135.5 L278.9 136.2 L279.5 136.9 L280.2 137.6 L280.9 138.3 L281.6 139.0 L282.3 139.7 L283.0 140.4 L283.7 141.1 L284.4 141.8 L285.1 142.4 L285.8 143.1 L286.5 143.8 L287.3 144.4 L288.0 145.0 L288.7 145.7 L289.5 146.3 L290.2 146.9 L291.0 147.6 L291.7 148.2 L292.5 148.8 L293.3 149.4 L294.1 150.0 L294.8 150.5 L295.6 151.1 L296.4 151.7 L297.2 152.2 L298.0 152.8 L298.9 153.3 L299.7 153.9 L300.5 154.4 L301.3 154.9 L302.2 155.4 L303.0 156.0 L303.9 156.5 L304.7 157.0 L305.6 157.4 L306.5 157.9 L307.4 158.4 L308.3 158.8 L309.2 159.3 L310.1 159.7 L311.0 160.2 L311.9 160.6 L312.8 161.0 L313.7 161.4 L314.7 161.8 L315.6 162.2 L316.6 162.6 L317.5 163.0 L318.5 163.3 L319.5 163.7 L320.4 164.1 L321.4 164.4 L322.4 164.7 L323.4 165.0 L324.5 165.3 L325.5 165.6 L326.0 165.8" stroke="#0000ff" stroke-width="1.8" stroke-dasharray="2.4 0.7" fill="none" stroke-linejoin="round"/>
<path d="M52.5 30.9 L53.5 30.7 L54.5 30.6 L55.6 30.5 L56.6 30.4 L57.7 30.3 L58.7 30.3 L59.7 30.4 L60.8 30.4 L61.8 30.5 L62.8 30.7 L63.8 30.8 L64.8 31.0 L65.8 31.2 L66.8 31.5 L67.7 31.8 L68.7 32.1 L69.6 32.5 L70.5 32.9 L71.4 33.3 L72.2 33.8 L73.1 34.3 L73.9 34.8 L74.7 35.3 L75.4 35.9 L76.1 36.5 L76.8 37.2 L77.4 37.8 L78.1 38.5 L78.6 39.2 L79.2 40.0 L79.7 40.8 L80.2 41.6 L80.6 42.4 L81.1 43.2 L81.5 44.1 L81.9 45.0 L82.2 45.9 L82.6 46.8 L82.9 47.7 L83.2 48.7 L83.5 49.6 L83.7 50.6 L84.0 51.6 L84.2 52.6 L84.4 53.6 L84.6 54.6 L84.8 55.6 L85.0 56.6 L85.2 57.6 L85.3 58.6 L85.5 59.6 L85.7 60.7 L85.8 61.7 L86.0 62.7 L86.1 63.7 L86.3 64.7 L86.4 65.7 L86.6 66.8 L86.7 67.8 L86.8 68.8 L87.0 69.8 L87.1 70.8 L87.2 71.8 L87.3 72.8 L87.4 73.8 L87.6 74.8 L87.7 75.8 L87.8 76.8 L87.9 77.8 L88.0 78.8 L88.1 79.8 L88.2 80.8 L88.3 81.8 L88.4 82.8 L88.5 83.8 L88.6 84.8 L88.6 85.8 L88.7 86.8 L88.8 87.8 L88.9 88.8 L89.0 89.8 L89.1 90.8 L89.1 91.8 L89.2 92.7 L89.3 93.7 L89.4 94.7 L89.4 95.7 L89.5 96.7 L89.6 97.7 L89.6 98.7 L89.7 99.7 L89.7 100.7 L89.8 101.7 L89.9 102.6 L89.9 103.6 L90.0 104.6 L90.0 105.6 L90.1 106.6 L90.2 107.6 L90.2 108.6 L90.3 109.6 L90.3 110.6 L90.4 111.5 L90.4 112.5 L90.5 113.5 L90.5 114.5 L90.6 115.5 L90.6 116.5 L90.7 117.5 L90.7 118.5 L90.8 119.5 L90.8 120.5 L90.9 121.5 L90.9 122.4 L91.0 123.4 L91.0 124.4 L91.1 125.4 L91.1 126.4 L91.1 127.4 L91.2 128.4 L91.2 129.4 L91.3 130.4 L91.3 131.4 L91.4 132.4 L91.4 133.4 L91.5 134.4 L91.5 135.4 L91.5 136.4 L91.6 137.4 L91.6 138.4 L91.7 139.4 L91.7 140.4 L91.8 141.4 L91.8 142.4 L91.8 143.4 L91.9 144.4 L91.9 145.4 L92.0 146.4 L92.0 147.4 L92.0 148.4 L92.1 149.5 L92.1 150.5 L92.2 151.5 L92.2 152.5 L92.3 153.5 L92.3 154.5 L92.3 155.5 L92.4 156.5 L92.4 157.5 L92.5 158.6 L92.5 159.6 L92.6 160.6 L92.6 161.6 L92.6 162.6 L92.7 163.7 L92.7 164.7 L92.8 165.7 L92.8 166.7 L92.9 167.7 L93.0 168.8 L93.0 169.8 L93.1 170.8 L93.2 171.8 L93.3 172.8 L93.4 173.8 L93.5 174.8 L93.6 175.8 L93.8 176.8 L93.9 177.8 L94.1 178.8 L94.3 179.7 L94.5 180.7 L94.7 181.6 L95.0 182.6 L95.3 183.5 L95.6 184.5 L95.9 185.4 L96.2 186.3 L96.6 187.2 L97.0 188.1 L97.4 189.0 L97.8 189.9 L98.3 190.7 L98.8 191.5 L99.4 192.4 L99.9 193.2 L100.5 193.9 L101.1 194.7 L101.8 195.4 L102.4 196.1 L103.1 196.8 L103.9 197.4 L104.6 198.0 L105.4 198.6 L106.2 199.2 L107.1 199.7 L107.9 200.2 L108.8 200.6 L109.7 201.1 L110.6 201.5 L111.5 201.9 L112.4 202.3 L113.3 202.7 L114.2 203.0 L115.2 203.3 L116.1 203.7 L117.1 204.0 L118.0 204.3 L119.0 204.6 L119.9 204.8 L120.9 205.1 L121.8 205.4 L122.8 205.6 L123.7 205.8 L124.7 206.0 L125.7 206.2 L126.7 206.4 L127.6 206.6 L128.6 206.8 L129.6 207.0 L130.6 207.1 L131.6 207.3 L132.5 207.4 L133.5 207.5 L134.5 207.7 L135.5 207.8 L136.5 207.9 L137.5 208.0 L138.5 208.1 L139.5 208.2 L140.5 208.2 L141.5 208.3 L142.5 208.4 L143.5 208.5 L144.5 208.5 L145.5 208.6 L146.5 208.6 L147.5 208.6 L148.5 208.7 L149.5 208.7 L150.5 208.7 L151.5 208.8 L152.6 208.8 L153.6 208.8 L154.6 208.8 L155.6 208.8 L156.6 208.8 L157.6 208.8 L158.6 208.9 L159.6 208.9 L160.6 208.9 L161.6 208.9 L162.7 208.9 L163.7 208.9 L164.7 208.9 L165.7 208.9 L166.7 208.9 L167.7 208.9 L168.7 208.9 L169.7 208.9 L170.7 208.9 L171.7 208.9 L172.7 208.9 L173.7 208.9 L174.7 208.9 L175.7 208.9 L176.7 208.9 L177.7 208.9 L178.7 208.9 L179.7 208.9 L180.7 208.9 L181.7 208.9 L182.7 208.9 L183.7 208.9 L184.7 208.9 L185.7 208.9 L186.7 208.9 L187.7 208.9 L188.7 209.0 L189.7 209.0 L190.7 209.0 L191.7 209.0 L192.7 209.0 L193.7 209.0 L194.7 209.0 L195.7 209.0 L196.7 209.0 L197.7 209.0 L198.7 209.0 L199.7 209.0 L200.7 209.0 L201.7 209.0 L202.7 209.0 L203.7 209.0 L204.6 209.0 L205.6 209.0 L206.6 209.1 L207.6 209.1 L208.6 209.1 L209.6 209.1 L210.6 209.1 L211.6 209.1 L212.6 209.1 L213.6 209.1 L214.6 209.1 L215.6 209.1 L216.6 209.1 L217.6 209.1 L218.6 209.1 L219.6 209.1 L220.6 209.1 L221.6 209.1 L222.6 209.1 L223.6 209.1 L224.6 209.1 L225.6 209.1 L226.6 209.1 L227.6 209.1 L228.6 209.1 L229.6 209.1 L230.6 209.1 L231.6 209.1 L232.6 209.1 L233.6 209.1 L234.6 209.1 L235.6 209.1 L236.6 209.1 L237.6 209.1 L238.6 209.1 L239.6 209.1 L240.6 209.1 L241.6 209.1 L242.6 209.1 L243.6 209.1 L244.6 209.1 L245.6 209.1 L246.6 209.1 L247.6 209.1 L248.6 209.1 L249.6 209.1 L250.6 209.1 L251.6 209.1 L252.6 209.1 L253.6 209.1 L254.6 209.1 L255.6 209.1 L256.6 209.1 L257.6 209.1 L258.6 209.1 L259.6 209.1 L260.6 209.1 L261.6 209.1 L262.6 209.1 L263.6 209.1 L264.6 209.1 L265.6 209.1 L266.6 209.1 L267.6 209.1 L268.6 209.1 L269.6 209.1 L270.6 209.1 L271.6 209.1 L272.6 209.1 L273.6 209.1 L274.6 209.1 L275.6 209.1 L276.6 209.1 L277.6 209.1 L278.6 209.1 L279.6 209.1 L280.6 209.1 L281.6 209.1 L282.7 209.1 L283.7 209.1 L284.7 209.1 L285.7 209.1 L286.7 209.1 L287.7 209.1 L288.7 209.1 L289.7 209.1 L290.7 209.1 L291.7 209.1 L292.7 209.1 L293.7 209.1 L294.7 209.1 L295.7 209.1 L296.7 209.1 L297.7 209.1 L298.7 209.1 L299.7 209.1 L300.7 209.1 L301.7 209.1 L302.7 209.1 L303.7 209.1 L304.7 209.1 L305.7 209.1 L306.7 209.1 L307.7 209.1 L308.7 209.1 L309.7 209.1 L310.6 209.1 L311.6 209.1 L312.6 209.1 L313.6 209.1 L314.6 209.1 L315.6 209.1 L316.6 209.1 L317.0 209.1" stroke="#ff0000" stroke-width="1.75" stroke-dasharray="1.2 1 1.2 2.5" fill="none" stroke-linejoin="round"/>
<path d="M52.5 30.9 L53.5 30.9 L54.5 30.8 L55.5 30.8 L56.5 30.7 L57.6 30.7 L58.6 30.6 L59.6 30.5 L60.6 30.5 L61.7 30.4 L62.7 30.3 L63.7 30.3 L64.7 30.2 L65.8 30.2 L66.8 30.2 L67.8 30.1 L68.8 30.1 L69.8 30.1 L70.8 30.2 L71.8 30.2 L72.8 30.3 L73.8 30.4 L74.8 30.5 L75.8 30.7 L76.7 30.8 L77.7 31.1 L78.7 31.3 L79.6 31.6 L80.5 31.9 L81.4 32.2 L82.4 32.5 L83.3 32.9 L84.2 33.3 L85.0 33.8 L85.9 34.2 L86.7 34.7 L87.6 35.2 L88.4 35.7 L89.2 36.2 L90.0 36.8 L90.8 37.4 L91.6 38.0 L92.4 38.6 L93.1 39.2 L93.9 39.9 L94.6 40.5 L95.3 41.2 L96.0 41.9 L96.6 42.6 L97.3 43.3 L97.9 44.1 L98.5 44.8 L99.2 45.5 L99.8 46.3 L100.3 47.1 L100.9 47.9 L101.5 48.7 L102.0 49.5 L102.6 50.3 L103.1 51.1 L103.6 51.9 L104.1 52.8 L104.6 53.6 L105.1 54.5 L105.5 55.3 L106.0 56.2 L106.4 57.1 L106.9 58.0 L107.3 58.9 L107.8 59.8 L108.2 60.7 L108.6 61.6 L109.0 62.5 L109.4 63.5 L109.8 64.4 L110.2 65.3 L110.5 66.2 L110.9 67.2 L111.3 68.1 L111.7 69.1 L112.0 70.0 L112.4 71.0 L112.7 71.9 L113.1 72.9 L113.4 73.9 L113.8 74.8 L114.1 75.8 L114.5 76.7 L114.8 77.7 L115.1 78.7 L115.5 79.6 L115.8 80.6 L116.2 81.5 L116.5 82.5 L116.8 83.5 L117.2 84.4 L117.5 85.4 L117.9 86.3 L118.2 87.3 L118.5 88.3 L118.9 89.2 L119.2 90.2 L119.6 91.1 L119.9 92.1 L120.3 93.0 L120.6 94.0 L120.9 94.9 L121.3 95.9 L121.6 96.8 L122.0 97.8 L122.3 98.7 L122.7 99.6 L123.1 100.6 L123.4 101.5 L123.8 102.5 L124.1 103.4 L124.5 104.3 L124.9 105.3 L125.2 106.2 L125.6 107.1 L126.0 108.1 L126.3 109.0 L126.7 109.9 L127.1 110.8 L127.5 111.7 L127.9 112.7 L128.3 113.6 L128.6 114.5 L129.0 115.4 L129.4 116.3 L129.8 117.2 L130.2 118.1 L130.6 119.1 L131.1 120.0 L131.5 120.9 L131.9 121.8 L132.3 122.6 L132.7 123.5 L133.2 124.4 L133.6 125.3 L134.0 126.2 L134.5 127.1 L134.9 128.0 L135.4 128.9 L135.8 129.7 L136.3 130.6 L136.7 131.5 L137.2 132.3 L137.7 133.2 L138.2 134.1 L138.6 134.9 L139.1 135.8 L139.6 136.6 L140.1 137.5 L140.6 138.3 L141.1 139.2 L141.7 140.0 L142.2 140.9 L142.7 141.7 L143.2 142.5 L143.8 143.4 L144.3 144.2 L144.9 145.0 L145.4 145.8 L146.0 146.7 L146.6 147.5 L147.1 148.3 L147.7 149.1 L148.3 149.9 L148.9 150.7 L149.5 151.5 L150.1 152.3 L150.7 153.1 L151.4 153.8 L152.0 154.6 L152.6 155.4 L153.3 156.2 L153.9 156.9 L154.6 157.7 L155.2 158.5 L155.9 159.2 L156.6 160.0 L157.3 160.7 L158.0 161.4 L158.7 162.2 L159.4 162.9 L160.1 163.6 L160.9 164.3 L161.6 165.0 L162.4 165.7 L163.1 166.4 L163.9 167.0 L164.7 167.7 L165.4 168.3 L166.2 168.9 L167.0 169.5 L167.8 170.1 L168.6 170.7 L169.5 171.2 L170.3 171.8 L171.1 172.3 L172.0 172.8 L172.9 173.3 L173.7 173.7 L174.6 174.1 L175.5 174.6 L176.4 175.0 L177.3 175.4 L178.2 175.7 L179.1 176.1 L180.0 176.4 L181.0 176.8 L181.9 177.1 L182.8 177.4 L183.8 177.7 L184.7 178.0 L185.6 178.3 L186.6 178.6 L187.5 178.9 L188.5 179.2 L189.4 179.5 L190.4 179.8 L191.4 180.1 L192.3 180.4 L193.3 180.7 L194.2 181.0 L195.2 181.3 L196.1 181.6 L197.1 181.9 L198.0 182.3 L198.9 182.6 L199.9 182.9 L200.8 183.3 L201.8 183.6 L202.7 183.9 L203.7 184.3 L204.6 184.6 L205.5 185.0 L206.5 185.3 L207.4 185.6 L208.4 186.0 L209.3 186.3 L210.3 186.6 L211.2 186.9 L212.2 187.2 L213.1 187.6 L214.1 187.9 L215.0 188.2 L216.0 188.4 L216.9 188.7 L217.9 189.0 L218.9 189.3 L219.8 189.6 L220.8 189.8 L221.7 190.1 L222.7 190.3 L223.7 190.6 L224.6 190.8 L225.6 191.1 L226.6 191.3 L227.5 191.5 L228.5 191.8 L229.5 192.0 L230.5 192.2 L231.4 192.4 L232.4 192.6 L233.4 192.9 L234.4 193.1 L235.3 193.3 L236.3 193.5 L237.3 193.7 L238.3 193.9 L239.2 194.1 L240.2 194.3 L241.2 194.4 L242.2 194.6 L243.2 194.8 L244.1 195.0 L245.1 195.2 L246.1 195.4 L247.1 195.5 L248.1 195.7 L249.1 195.9 L250.0 196.1 L251.0 196.2 L252.0 196.4 L253.0 196.6 L254.0 196.7 L255.0 196.9 L255.9 197.0 L256.9 197.2 L257.9 197.4 L258.9 197.5 L259.9 197.6 L260.9 197.8 L261.9 197.9 L262.9 198.1 L263.9 198.2 L264.8 198.4 L265.8 198.5 L266.8 198.6 L267.8 198.8 L268.8 198.9 L269.8 199.0 L270.8 199.1 L271.8 199.3 L272.8 199.4 L273.8 199.5 L274.8 199.6 L275.8 199.7 L276.8 199.9 L277.7 200.0 L278.7 200.1 L279.7 200.2 L280.7 200.3 L281.7 200.4 L282.7 200.5 L283.7 200.6 L284.7 200.7 L285.7 200.8 L286.7 200.9 L287.7 201.0 L288.7 201.1 L289.7 201.2 L290.7 201.3 L291.7 201.3 L292.7 201.4 L293.7 201.5 L294.7 201.6 L295.7 201.7 L296.7 201.7 L297.7 201.8 L298.7 201.9 L299.7 202.0 L300.7 202.0 L301.7 202.1 L302.7 202.2 L303.7 202.2 L304.7 202.3 L305.7 202.4 L306.7 202.4 L307.6 202.5 L308.6 202.5 L309.6 202.6 L310.6 202.7 L311.6 202.7 L312.6 202.8 L313.6 202.8 L314.6 202.9 L315.6 202.9 L316.6 203.0 L317.6 203.0 L318.6 203.0 L319.6 203.1 L320.6 203.1 L321.6 203.2 L322.6 203.2" stroke="#ff0000" stroke-width="1.75" stroke-dasharray="1.2 1 1.2 2.5" fill="none" stroke-linejoin="round"/>
<path d="M52.5 30.9 L53.5 30.9 L54.4 31.0 L55.4 31.0 L56.4 31.0 L57.4 31.0 L58.4 31.0 L59.3 31.0 L60.3 31.0 L61.3 31.1 L62.3 31.1 L63.3 31.1 L64.3 31.1 L65.3 31.1 L66.3 31.1 L67.3 31.1 L68.2 31.1 L69.2 31.1 L70.2 31.1 L71.2 31.0 L72.2 31.0 L73.2 31.0 L74.2 31.0 L75.2 31.0 L76.2 31.0 L77.2 31.0 L78.2 31.0 L79.2 31.0 L80.3 31.0 L81.3 31.0 L82.3 31.0 L83.3 31.0 L84.3 30.9 L85.3 30.9 L86.3 30.9 L87.3 30.9 L88.3 30.9 L89.3 30.9 L90.3 30.9 L91.3 30.9 L92.4 30.9 L93.4 30.9 L94.4 30.9 L95.4 30.9 L96.4 31.0 L97.4 31.0 L98.4 31.0 L99.4 31.0 L100.5 31.0 L101.5 31.0 L102.5 31.1 L103.5 31.1 L104.5 31.1 L105.5 31.2 L106.5 31.2 L107.5 31.2 L108.6 31.3 L109.6 31.3 L110.6 31.4 L111.6 31.4 L112.6 31.5 L113.6 31.5 L114.6 31.6 L115.6 31.7 L116.6 31.7 L117.6 31.8 L118.6 31.9 L119.6 32.0 L120.7 32.1 L121.7 32.2 L122.7 32.3 L123.7 32.4 L124.7 32.5 L125.7 32.6 L126.7 32.7 L127.7 32.9 L128.7 33.0 L129.7 33.1 L130.7 33.3 L131.7 33.4 L132.7 33.6 L133.6 33.8 L134.6 33.9 L135.6 34.1 L136.6 34.3 L137.6 34.5 L138.6 34.7 L139.6 34.9 L140.6 35.1 L141.5 35.3 L142.5 35.5 L143.5 35.8 L144.5 36.0 L145.4 36.2 L146.4 36.5 L147.4 36.8 L148.4 37.0 L149.3 37.3 L150.3 37.6 L151.2 37.9 L152.2 38.2 L153.1 38.5 L154.1 38.8 L155.0 39.1 L156.0 39.4 L156.9 39.8 L157.8 40.1 L158.7 40.5 L159.7 40.8 L160.6 41.2 L161.5 41.6 L162.4 42.0 L163.3 42.4 L164.2 42.8 L165.1 43.2 L166.0 43.6 L166.9 44.1 L167.7 44.5 L168.6 45.0 L169.5 45.4 L170.3 45.9 L171.2 46.4 L172.0 46.9 L172.9 47.4 L173.7 47.9 L174.5 48.4 L175.3 48.9 L176.2 49.5 L177.0 50.0 L177.8 50.6 L178.5 51.1 L179.3 51.7 L180.1 52.3 L180.9 52.9 L181.6 53.5 L182.4 54.1 L183.2 54.7 L183.9 55.4 L184.6 56.0 L185.4 56.6 L186.1 57.3 L186.8 58.0 L187.5 58.6 L188.2 59.3 L188.9 60.0 L189.6 60.7 L190.3 61.4 L191.0 62.1 L191.7 62.8 L192.4 63.5 L193.0 64.2 L193.7 65.0 L194.4 65.7 L195.0 66.5 L195.7 67.2 L196.3 68.0 L197.0 68.7 L197.6 69.5 L198.2 70.3 L198.8 71.1 L199.5 71.8 L200.1 72.6 L200.7 73.4 L201.3 74.2 L201.9 75.0 L202.5 75.8 L203.1 76.6 L203.7 77.5 L204.2 78.3 L204.8 79.1 L205.4 79.9 L206.0 80.8 L206.5 81.6 L207.1 82.4 L207.7 83.3 L208.2 84.1 L208.8 85.0 L209.3 85.8 L209.9 86.7 L210.4 87.5 L211.0 88.4 L211.5 89.2 L212.1 90.1 L212.6 90.9 L213.1 91.8 L213.7 92.7 L214.2 93.5 L214.7 94.4 L215.3 95.3 L215.8 96.1 L216.3 97.0 L216.9 97.9 L217.4 98.7 L217.9 99.6 L218.4 100.5 L219.0 101.3 L219.5 102.2 L220.0 103.1 L220.6 103.9 L221.1 104.8 L221.6 105.7 L222.1 106.5 L222.7 107.4 L223.2 108.3 L223.7 109.1 L224.3 110.0 L224.8 110.8 L225.4 111.7 L225.9 112.5 L226.4 113.4 L227.0 114.2 L227.5 115.1 L228.1 115.9 L228.6 116.8 L229.2 117.6 L229.7 118.4 L230.3 119.3 L230.9 120.1 L231.4 120.9 L232.0 121.7 L232.6 122.5 L233.1 123.4 L233.7 124.2 L234.3 125.0 L234.9 125.8 L235.5 126.6 L236.1 127.3 L236.7 128.1 L237.3 128.9 L237.9 129.7 L238.5 130.4 L239.2 131.2 L239.8 132.0 L240.4 132.7 L241.1 133.4 L241.7 134.2 L242.4 134.9 L243.0 135.6 L243.7 136.3 L244.3 137.1 L245.0 137.8 L245.7 138.5 L246.4 139.1 L247.1 139.8 L247.8 140.5 L248.5 141.2 L249.2 141.8 L250.0 142.5 L250.7 143.1 L251.4 143.7 L252.2 144.4 L252.9 145.0 L253.7 145.6 L254.5 146.2 L255.3 146.8 L256.1 147.3 L256.9 147.9 L257.7 148.5 L258.5 149.0 L259.3 149.6 L260.1 150.1 L260.9 150.6 L261.8 151.2 L262.6 151.7 L263.5 152.2 L264.3 152.7 L265.2 153.2 L266.1 153.7 L266.9 154.2 L267.8 154.6 L268.7 155.1 L269.6 155.6 L270.5 156.0 L271.4 156.5 L272.3 156.9 L273.2 157.3 L274.1 157.8 L275.1 158.2 L276.0 158.6 L276.9 159.0 L277.8 159.4 L278.8 159.8 L279.7 160.2 L280.6 160.6 L281.6 161.0 L282.5 161.4 L283.5 161.7 L284.4 162.1 L285.4 162.5 L286.4 162.8 L287.3 163.2 L288.3 163.5 L289.2 163.8 L290.2 164.2 L291.2 164.5 L292.2 164.8 L293.1 165.2 L294.1 165.5 L295.1 165.8 L296.0 166.1 L297.0 166.4 L298.0 166.7 L299.0 167.0 L299.9 167.3 L300.9 167.6 L301.9 167.9 L302.9 168.2 L303.9 168.5 L304.8 168.8 L305.8 169.0 L306.8 169.3 L307.8 169.6 L308.7 169.9 L309.7 170.1 L310.7 170.4 L311.6 170.6 L312.6 170.9 L313.6 171.2 L314.5 171.4 L315.5 171.7 L316.4 171.9 L317.4 172.2 L318.4 172.4 L319.3 172.7 L320.3 172.9 L321.2 173.2 L322.1 173.4 L323.1 173.6 L324.0 173.9 L324.9 174.1 L325.9 174.4 L326.0 174.4" stroke="#ff0000" stroke-width="1.6" stroke-dasharray="1.2 1 1.2 2.5" fill="none" stroke-linejoin="round"/>
<path d="M288.9 20.9 H318.3" stroke="#000" stroke-width="2.0" />
<path d="M288.9 31.9 H318.3" stroke="#0000ff" stroke-width="1.8" stroke-dasharray="2 0.94" />
<path d="M288.9 42.9 H318.3" stroke="#ff0000" stroke-width="1.75" stroke-dasharray="1.2 1 1.2 2.5" />
<path d="M52.5 12.5 V211.15 M52 210.65 H331.5" fill="none" stroke="#000" stroke-width="1"/>
<path d="M52 13.0 H331.5 M331.0 12.5 V211.15" fill="none" stroke="#000" stroke-width="0.9"/>
<g style="font-family:'Liberation Serif',serif" font-size="11.0" fill="#000" stroke="#000" stroke-width="0.12" filter="url(#gs)">
<text x="46.3" y="214.40" text-anchor="end">0</text>
<text x="53.50" y="225.3" text-anchor="middle">0</text>
<text x="46.3" y="178.44" text-anchor="end">0.2</text>
<text x="109.38" y="225.3" text-anchor="middle">0.2</text>
<text x="46.3" y="142.47" text-anchor="end">0.4</text>
<text x="165.06" y="225.3" text-anchor="middle">0.4</text>
<text x="46.3" y="106.51" text-anchor="end">0.6</text>
<text x="220.74" y="225.3" text-anchor="middle">0.6</text>
<text x="46.3" y="70.55" text-anchor="end">0.8</text>
<text x="276.42" y="225.3" text-anchor="middle">0.8</text>
<text x="46.3" y="34.58" text-anchor="end">1</text>
<text x="331.90" y="225.3" text-anchor="middle">1</text>
<text x="191.8" y="241.3" text-anchor="middle">T [GeV]</text>
<text x="283" y="24.6" text-anchor="end">μ = 0.0</text>
<text x="283" y="35.6" text-anchor="end">μ = T/2</text>
<text x="283" y="46.6" text-anchor="end">μ = T</text>
<text x="73.2" y="179.0">(a)</text>
<g><text transform="translate(64.70 97.00) scale(1.14 1)" font-size="10.6" stroke="#000" stroke-width="0.25">σ</text><text x="65.90" y="96.50" font-size="9.5" stroke="#000" stroke-width="0.15">˜</text><text x="71.20" y="100.70" font-size="9.13" stroke="none">l</text><text x="73.60" y="97.00">/</text><text transform="translate(76.60 97.00) scale(1.14 1)" font-size="10.6" stroke="#000" stroke-width="0.25">σ</text><text x="77.80" y="96.50" font-size="9.5" stroke="#000" stroke-width="0.15">˜</text><text x="83.10" y="100.70" font-size="9.13" stroke="none">l</text><text x="85.50" y="103.10" font-size="7.48" stroke="none">0</text></g>
<g><text transform="translate(136.20 97.00) scale(1.14 1)" font-size="10.6" stroke="#000" stroke-width="0.25">σ</text><text x="137.40" y="96.50" font-size="9.5" stroke="#000" stroke-width="0.15">˜</text><text x="142.70" y="100.70" font-size="9.13" stroke="none">s</text><text x="146.00" y="97.00">/</text><text transform="translate(149.00 97.00) scale(1.14 1)" font-size="10.6" stroke="#000" stroke-width="0.25">σ</text><text x="150.20" y="96.50" font-size="9.5" stroke="#000" stroke-width="0.15">˜</text><text x="155.50" y="100.70" font-size="9.13" stroke="none">s</text><text x="158.80" y="103.10" font-size="7.48" stroke="none">0</text></g>
<g><text transform="translate(219.30 97.00) scale(1.14 1)" font-size="10.6" stroke="#000" stroke-width="0.25">σ</text><text x="220.50" y="96.50" font-size="9.5" stroke="#000" stroke-width="0.15">˜</text><text x="225.80" y="100.70" font-size="9.13" stroke="none">c</text><text x="229.60" y="97.00">/</text><text transform="translate(232.60 97.00) scale(1.14 1)" font-size="10.6" stroke="#000" stroke-width="0.25">σ</text><text x="233.80" y="96.50" font-size="9.5" stroke="#000" stroke-width="0.15">˜</text><text x="239.10" y="100.70" font-size="9.13" stroke="none">c</text><text x="242.90" y="103.10" font-size="7.48" stroke="none">0</text></g>
<g transform="rotate(-90 12.0 125.9)"><text transform="translate(12.00 125.90) scale(1.14 1)" font-size="10.6" stroke="#000" stroke-width="0.25">σ</text><text x="13.20" y="125.40" font-size="9.5" stroke="#000" stroke-width="0.15">˜</text><text x="18.50" y="129.60" font-size="9.13" stroke="none">f</text><text x="21.40" y="125.90">/</text><text transform="translate(24.40 125.90) scale(1.14 1)" font-size="10.6" stroke="#000" stroke-width="0.25">σ</text><text x="25.60" y="125.40" font-size="9.5" stroke="#000" stroke-width="0.15">˜</text><text x="30.90" y="129.60" font-size="9.13" stroke="none">f</text><text x="33.80" y="132.00" font-size="7.48" stroke="none">0</text></g>
</g>
</svg>
</body></html>
